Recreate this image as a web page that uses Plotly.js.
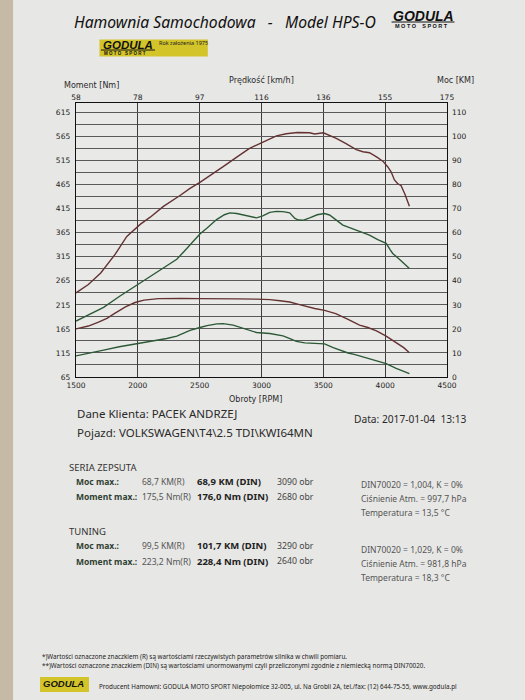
<!DOCTYPE html>
<html>
<head>
<meta charset="utf-8">
<script src="https://cdn.plot.ly/plotly-3.0.1.min.js"></script>
<style>html,body{margin:0;padding:0;background:#e7e7e5;}#chart{width:525px;height:700px;}</style>
</head>
<body>
<div id="chart"></div>
<script>
// ---- data ----
const rpmTicks = [1500, 2000, 2500, 3000, 3500, 4000, 4500];
const speedLabels = ['58', '78', '97', '116', '136', '155', '175'];
const torqueTicks = [65, 115, 165, 215, 265, 315, 365, 415, 465, 515, 565, 615];
const powerTicks = [0, 10, 20, 30, 40, 50, 60, 70, 80, 90, 100, 110];

// TUNING – power [KM]
const tunPowRpm = [1500,1600,1700,1816,1911,2019,2100,2207,2341,2422,2502,2600,2690,2800,2900,2960,3050,3121,3200,3290,3389,3430,3500,3540,3605,3680,3766,3820,3873,3930,3981,4020,4048,4075,4100,4129,4160,4196];
const tunPow    = [35.0,38.5,43.3,51.0,58.5,63.5,66.5,71.0,75.5,78.5,81.0,84.3,87.5,91.5,95.0,96.5,98.8,100.3,101.2,101.7,101.6,101.1,101.6,100.8,99.3,97.2,94.6,93.7,93.3,91.6,89.8,87.5,85.4,82.0,80.5,79.6,76.0,71.0];
// SERIA – power [KM]
const stdPowRpm = [1500,1600,1723,1850,1992,2100,2180,2315,2370,2422,2502,2560,2637,2700,2744,2800,2852,2906,2960,3010,3067,3120,3174,3228,3270,3300,3335,3390,3450,3510,3550,3600,3658,3739,3800,3873,3940,4008,4040,4061,4115,4160,4196];
const stdPow    = [23.3,25.8,29.0,33.5,38.3,41.8,44.3,49.0,52.0,55.0,59.5,62.0,65.5,67.5,68.3,68.0,67.5,66.7,66.2,67.0,68.5,68.9,68.8,68.3,66.0,65.3,65.2,66.2,67.5,68.0,67.4,65.5,63.2,61.6,60.5,59.0,57.2,55.6,53.0,51.4,49.0,47.0,45.1];
// TUNING – torque [Nm]
const tunTqRpm = [1500,1600,1682,1750,1816,1900,1977,2050,2166,2250,2353,2500,2640,2800,2960,3067,3150,3228,3300,3362,3430,3510,3600,3700,3793,3860,3930,4008,4089,4150,4196];
const tunTq    = [165,171,179,187,198,211,220,225,228,228.4,228.2,228,228.3,227.5,227,226,223.5,221,216,211.5,207.5,203.5,197,185,173,168,161,150,137,126,115.5];
// SERIA – torque [Nm]
const stdTqRpm = [1500,1600,1723,1850,1992,2100,2234,2315,2380,2422,2502,2560,2640,2690,2771,2850,2920,2960,3067,3174,3230,3282,3350,3470,3510,3580,3658,3700,3750,3847,3920,4008,4089,4150,4196];
const stdTq    = [109,115,121,128,134,139,145,150,157,162,168,172,175.5,176,173,166,160,157.5,155.5,150.5,145,139,136,135.5,134,126,118,115,112,105,100,93,83,77,72];

// ---- geometry helpers (pixel -> paper) ----
const W = 525, H = 700, PL = 76, PR = 447.5, PT = 103, PB = 377;
const fx = x => (x - PL) / (PR - PL);
const fy = y => (PB - y) / (PB - PT);

const BROWN = '#643232', GREEN = '#2c5a36';
const FONT = 'DejaVu Sans';
const FONT2 = 'Noto Sans';

function txt(x, y, t, opt) {
  opt = opt || {};
  return {
    xref: 'paper', yref: 'paper', x: fx(x), y: fy(y), text: t, showarrow: false,
    xanchor: opt.xa || 'left', yanchor: 'middle',
    font: { family: opt.family || FONT2, size: opt.size || 9, color: opt.color || '#2a2a2a', weight: opt.weight || 'normal', style: opt.style || 'normal' }
  };
}

const ann = [];
ann.push(txt(72, 22, 'Hamownia Samochodowa\u00a0\u00a0\u00a0-\u00a0\u00a0\u00a0Model HPS-O', { size: 15.7, style: 'italic', color: '#111' }));
// top right logo
ann.push(txt(391, 16.5, 'GODULA', { family: 'Liberation Sans', size: 14, weight: 'bold', style: 'italic', color: '#111' }));
ann.push(txt(393, 25.5, 'M O T O\u00a0\u00a0\u00a0\u00a0S P O R T', { family: 'Liberation Sans', size: 5.5, weight: 'bold', color: '#111' }));
// yellow logo
ann.push(txt(101, 45, 'GODULA', { family: 'Liberation Sans', size: 11.5, weight: 'bold', style: 'italic', color: '#111' }));
ann.push(txt(102, 53.2, 'M O T O\u00a0\u00a0\u00a0S P O R T', { family: 'Liberation Sans', size: 4.5, weight: 'bold', color: '#111' }));
ann.push(txt(157, 43, 'Rok założenia 1975', { size: 5.5, color: '#222' }));
// axis headings
ann.push(txt(62, 85, 'Moment [Nm]', { family: FONT, size: 8 }));
ann.push(txt(262, 80, 'Prędkość [km/h]', { family: FONT, size: 8, xa: 'center' }));
ann.push(txt(435, 80, 'Moc [KM]', { family: FONT, size: 8 }));
ann.push(txt(256, 399, 'Obroty [RPM]', { family: FONT, size: 8, xa: 'center' }));
// client
ann.push(txt(75, 413, 'Dane Klienta: PACEK ANDRZEJ', { size: 11.5 }));
ann.push(txt(75, 432, 'Pojazd: VOLKSWAGEN\\T4\\2.5 TDI\\KWI64MN', { size: 11.5 }));
ann.push(txt(352, 419, 'Data: 2017-01-04\u00a0\u00a013:13', { size: 10.2 }));
// results
const rowsX = [74, 140, 195, 275];
function resRow(y, cells) {
  ann.push(txt(rowsX[0], y, cells[0], { size: 8.5, weight: 'bold', color: '#2f3f33' }));
  ann.push(txt(rowsX[1], y, cells[1], { size: 8.5, color: '#555' }));
  ann.push(txt(rowsX[2], y, cells[2], { size: 9.5, weight: 'bold', color: '#222' }));
  ann.push(txt(rowsX[3], y, cells[3], { size: 8.7, color: '#444' }));
}
ann.push(txt(67, 467.5, 'SERIA ZEPSUTA', { size: 9.5, color: '#333' }));
resRow(481.5, ['Moc max.:', '68,7 KM(R)', '68,9 KM (DIN)', '3090 obr']);
resRow(496.5, ['Moment max.:', '175,5 Nm(R)', '176,0 Nm (DIN)', '2680 obr']);
ann.push(txt(359, 484.5, 'DIN70020 = 1,004, K = 0%', { size: 8.5, color: '#555' }));
ann.push(txt(359, 498.5, 'Ciśnienie Atm. = 997,7 hPa', { size: 8.5, color: '#555' }));
ann.push(txt(359, 512.5, 'Temperatura = 13,5 °C', { size: 8.5, color: '#555' }));
ann.push(txt(67, 531, 'TUNING', { size: 9.5, color: '#333' }));
resRow(545.5, ['Moc max.:', '99,5 KM(R)', '101,7 KM (DIN)', '3290 obr']);
resRow(561, ['Moment max.:', '223,2 Nm(R)', '228,4 Nm (DIN)', '2640 obr']);
ann.push(txt(359, 549, 'DIN70020 = 1,029, K = 0%', { size: 8.5, color: '#555' }));
ann.push(txt(359, 563.5, 'Ciśnienie Atm. = 981,8 hPa', { size: 8.5, color: '#555' }));
ann.push(txt(359, 577.5, 'Temperatura = 18,3 °C', { size: 8.5, color: '#555' }));
// footer
ann.push(txt(40, 656, '*)Wartości oznaczone znaczkiem (R) są wartościami rzeczywistych parametrów silnika w chwili pomiaru.', { size: 6.3, color: '#222' }));
ann.push(txt(40, 666, '**)Wartości oznaczone znaczkiem (DIN) są wartościami unormowanymi czyli przeliczonymi zgodnie z niemiecką normą DIN70020.', { size: 6.3, color: '#222' }));
ann.push(txt(41, 683, 'GODULA', { family: 'Liberation Sans', size: 9.5, weight: 'bold', style: 'italic', color: '#111' }));
ann.push(txt(97, 686, 'Producent Hamowni: GODULA MOTO SPORT Niepołomice 32-005, ul. Na Grobli 2A, tel./fax: (12) 644-75-55, www.godula.pl', { size: 6.3, color: '#222' }));

const shapes = [
  { type: 'rect', xref: 'paper', yref: 'paper', x0: fx(-5), x1: fx(13), y0: fy(705), y1: fy(-5), fillcolor: '#c6baa6', line: { width: 0 }, layer: 'below' },
  { type: 'rect', xref: 'paper', yref: 'paper', x0: fx(99.5), x1: fx(208), y0: fy(56.5), y1: fy(39.5), fillcolor: '#d3c42a', line: { width: 0 }, layer: 'below' },
  { type: 'line', xref: 'paper', yref: 'paper', x0: fx(101), x1: fx(155), y0: fy(50), y1: fy(50), line: { color: '#111', width: 1 } },
  { type: 'line', xref: 'paper', yref: 'paper', x0: fx(392), x1: fx(455), y0: fy(22), y1: fy(22), line: { color: '#111', width: 1.2 } },
  { type: 'rect', xref: 'paper', yref: 'paper', x0: fx(40), x1: fx(89), y0: fy(692), y1: fy(677), fillcolor: '#d3c42a', line: { width: 0 }, layer: 'below' }
];

const lineW = 1.4;
const data = [
  { x: tunPowRpm, y: tunPow, xaxis: 'x2', yaxis: 'y2', type: 'scatter', mode: 'lines', line: { color: BROWN, width: lineW }, name: 'Moc TUNING' },
  { x: stdPowRpm, y: stdPow, xaxis: 'x2', yaxis: 'y2', type: 'scatter', mode: 'lines', line: { color: GREEN, width: lineW }, name: 'Moc SERIA' },
  { x: tunTqRpm, y: tunTq, type: 'scatter', mode: 'lines', line: { color: BROWN, width: lineW }, name: 'Moment TUNING' },
  { x: stdTqRpm, y: stdTq, type: 'scatter', mode: 'lines', line: { color: GREEN, width: lineW }, name: 'Moment SERIA' }
];

const tickFont = { family: FONT, size: 7.5, color: '#222' };
const layout = {
  width: W, height: H,
  margin: { l: PL, r: W - PR, t: PT, b: H - PB, pad: 0 },
  paper_bgcolor: '#e7e7e5', plot_bgcolor: '#e9e9e7',
  showlegend: false,
  xaxis: {
    range: [1500, 4500], tickmode: 'array', tickvals: rpmTicks, ticktext: rpmTicks.map(String),
    showgrid: true, gridcolor: '#3c3c3c', gridwidth: 1, zeroline: false,
    showline: true, linecolor: '#111', linewidth: 1.3, mirror: true, ticks: '', tickfont: tickFont, ticklabelstandoff: 1
  },
  xaxis2: {
    overlaying: 'x', side: 'top', range: [1500, 4500], tickmode: 'array', tickvals: rpmTicks, ticktext: speedLabels,
    showgrid: false, zeroline: false, showline: false, ticks: '', tickfont: tickFont, anchor: 'y2', ticklabelstandoff: 1
  },
  yaxis: {
    range: [65, 635], tickmode: 'array', tickvals: torqueTicks, ticktext: torqueTicks.map(String),
    showgrid: true, gridcolor: '#5a5a5a', gridwidth: 1, zeroline: false,
    minor: { tick0: 65, dtick: 25, showgrid: true, gridcolor: '#5a5a5a', gridwidth: 1 },
    showline: true, linecolor: '#111', linewidth: 1.3, mirror: true, ticks: '', tickfont: tickFont, ticklabelstandoff: 3
  },
  yaxis2: {
    overlaying: 'y', side: 'right', range: [0, 114], tickmode: 'array', tickvals: powerTicks, ticktext: powerTicks.map(String),
    showgrid: false, zeroline: false, showline: false, ticks: '', tickfont: tickFont, ticklabelstandoff: 4, anchor: 'x2'
  },
  annotations: ann,
  shapes: shapes
};

Plotly.newPlot('chart', data, layout, { staticPlot: true, displayModeBar: false });
</script>
</body>
</html>
